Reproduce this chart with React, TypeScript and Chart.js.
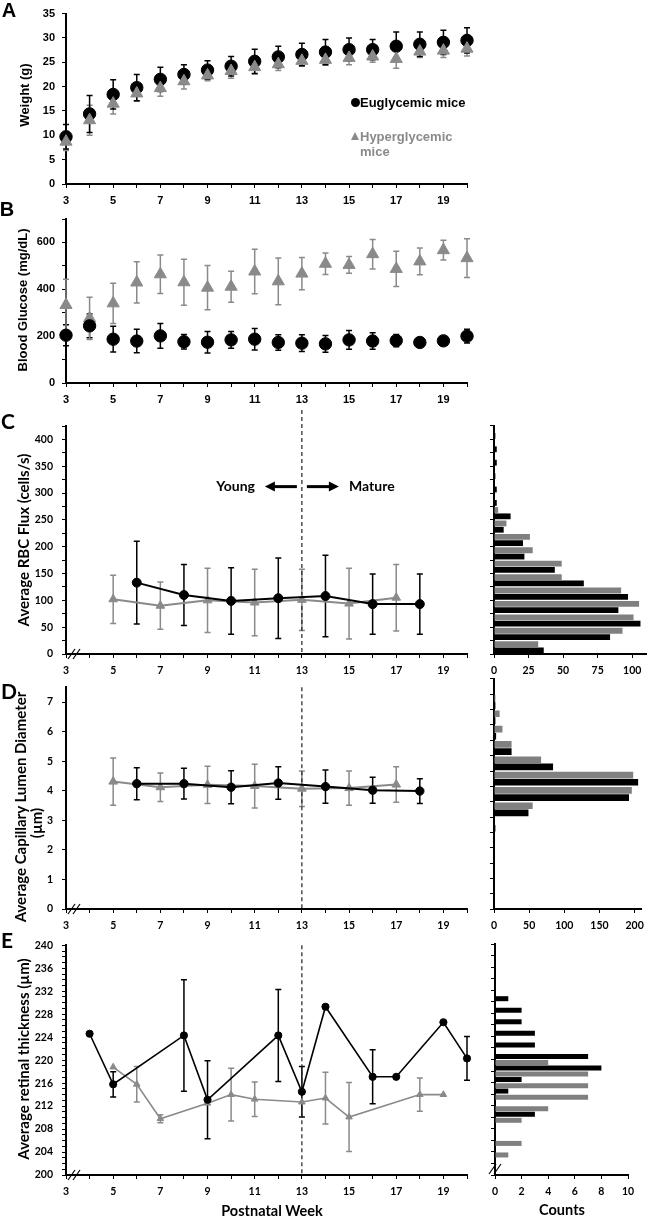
import React, { useEffect, useRef } from 'react';
import { Chart, registerables } from 'chart.js';
Chart.register(...registerables);

// ---------------- data ----------------
const weeks = [3, 4, 5, 6, 7, 8, 9, 10, 11, 12, 13, 14, 15, 16, 17, 18, 19, 20];
const weekTickLabels = [3, 5, 7, 9, 11, 13, 15, 17, 19];

// A: weight (g)
const weightEu = [9.7, 14.4, 18.4, 19.8, 21.5, 22.5, 23.4, 24.2, 25.2, 26.1, 26.6, 27.1, 27.6, 27.6, 28.3, 28.7, 29.1, 29.5];
const weightEuSd = [2.5, 3.8, 3.0, 2.7, 2.5, 2.0, 1.9, 2.0, 2.5, 2.2, 2.3, 2.6, 2.4, 2.1, 2.9, 2.5, 2.5, 2.6];
const weightHy = [8.7, 13.1, 16.5, 18.6, 19.7, 21.1, 22.3, 23.2, 24.0, 24.6, 25.3, 25.5, 25.9, 26.2, 25.7, 27.2, 27.4, 27.8];
const weightHySd = [1.8, 3.1, 2.1, 1.6, 1.7, 1.6, 1.1, 1.5, 1.4, 1.3, 1.1, 1.1, 1.4, 1.2, 1.9, 1.2, 1.4, 1.5];
const weightTicks = [0, 5, 10, 15, 20, 25, 30, 35];

// B: blood glucose (mg/dL)
const glucoseEu = [204, 244, 187, 179, 201, 176, 174, 184, 187, 173, 170, 167, 184, 179, 181, 173, 180, 200];
const glucoseEuSd = [45, 51, 55, 50, 53, 31, 46, 36, 46, 33, 36, 36, 40, 35, 26, 15, 10, 29];
const glucoseHy = [333, 276, 340, 429, 464, 430, 407, 411, 476, 434, 467, 509, 504, 550, 487, 519, 567, 533];
const glucoseHySd = [110, 90, 86, 88, 82, 98, 94, 66, 95, 100, 69, 46, 36, 63, 75, 57, 42, 83];
const glucoseTicks = [0, 100, 200, 300, 400, 500, 600, 700];
const glucoseTickLabels = [0, 200, 400, 600];

// C: RBC flux (cells/s)
const fluxEuWeeks = [6, 8, 10, 12, 14, 16, 18];
const fluxEu = [133, 110, 99, 104, 108, 93, 93];
const fluxEuSd = [77, 57, 62, 75, 76, 56, 56];
const fluxHyWeeks = [5, 7, 9, 11, 13, 15, 17];
const fluxHy = [102, 90, 100, 96, 101, 94, 105];
const fluxHySd = [45, 44, 60, 62, 57, 66, 62];
const fluxTicks = [0, 25, 50, 75, 100, 125, 150, 175, 200, 225, 250, 275, 300, 325, 350, 375, 400, 425];
const fluxTickLabels = [0, 50, 100, 150, 200, 250, 300, 350, 400];
const fluxBins = ['0', '25', '50', '75', '100', '125', '150', '175', '200', '225', '250', '275', '300', '325', '350', '375', '400'];
const fluxHistHy = [32, 93, 101, 105, 92, 49, 49, 28, 26, 9, 3, 0, 0, 0, 0, 0, 0];
const fluxHistEu = [36, 84, 106, 90, 97, 65, 44, 22, 21, 7, 12, 2, 2, 1, 2, 2, 1];
const fluxCountTicks = [0, 25, 50, 75, 100];

// D: capillary lumen diameter (um)
const diamEuWeeks = [6, 8, 10, 12, 14, 16, 18];
const diamEu = [4.24, 4.24, 4.12, 4.26, 4.14, 4.02, 3.99];
const diamEuSd = [0.54, 0.52, 0.56, 0.55, 0.56, 0.44, 0.42];
const diamHyWeeks = [5, 7, 9, 11, 13, 15, 17];
const diamHy = [4.31, 4.12, 4.2, 4.16, 4.07, 4.09, 4.21];
const diamHySd = [0.8, 0.48, 0.63, 0.74, 0.6, 0.58, 0.6];
const diamTicks = [0, 1, 2, 3, 4, 5, 6, 7];
const diamBins = ['0', '0.5', '1', '1.5', '2', '2.5', '3', '3.5', '4', '4.5', '5', '5.5', '6', '6.5', '7'];
const diamHistHy = [0, 0, 0, 0, 0, 0, 55, 196, 198, 67, 25, 12, 8, 2, 0];
const diamHistEu = [0, 0, 0, 0, 0, 2, 49, 192, 205, 84, 25, 3, 2, 2, 1];
const diamCountTicks = [0, 50, 100, 150, 200];

// E: retinal thickness (um)
const thickEuWeeks = [4, 5, 8, 9, 12, 13, 14, 16, 17, 19, 20];
const thickEu = [224.6, 215.8, 224.3, 213.1, 224.3, 214.5, 229.3, 217.1, 217.1, 226.6, 220.3];
const thickEuSd = [0, 2.2, 9.7, 6.8, 8.0, 4.4, 0, 4.7, 0, 0, 3.8];
const thickHyWeeks = [5, 6, 7, 9, 10, 11, 13, 14, 15, 18, 19];
const thickHy = [218.8, 215.8, 209.8, 212.5, 214.0, 213.2, 212.7, 213.4, 210.1, 214.0, 214.0];
const thickHySd = [0, 3.1, 0.7, 0, 4.6, 3.0, 0, 4.5, 6.0, 2.9, 0];
const thickTicks = [200, 201, 202, 203, 204, 205, 206, 207, 208, 209, 210, 211, 212, 213, 214, 215, 216, 217, 218, 219, 220, 221, 222, 223, 224, 225, 226, 227, 228, 229, 230, 231, 232, 233, 234, 235, 236, 237, 238, 239, 240];
const thickTickLabels = [200, 204, 208, 212, 216, 220, 224, 228, 232, 236, 240];
const thickBins = ['200', '202', '204', '206', '208', '210', '212', '214', '216', '218', '220', '222', '224', '226', '228', '230', '232', '234', '236', '238'];
const thickHistHy = [0, 1, 2, 0, 2, 4, 7, 7, 7, 4, 0, 0, 0, 0, 0, 0, 0, 0, 0, 0];
const thickHistEu = [0, 0, 0, 0, 0, 3, 0, 1, 2, 8, 7, 3, 3, 2, 2, 1, 0, 0, 0, 0];
const thickCountTicks = [0, 2, 4, 6, 8, 10];

// ---------------- style ----------------
const FONT_AB = "'Liberation Sans', Arial, Helvetica, sans-serif";
const FONT_CE = "Lato, 'Open Sans', 'Noto Sans', sans-serif";
const BLACK = '#000000';
const GRAY = '#8a8a8a';
const GRAY_BAR = '#808080';

const MAIN_W = 475;
const X_RIGHT = 467;
const Y_AXIS_W = 66;
const X_AXIS_H = 30;

type Geo = { canvasTop: number; top: number; bottom: number };
const GEO: Record<string, Geo> = {
  A: { canvasTop: 0, top: 6, bottom: 184 },
  B: { canvasTop: 205, top: 219, bottom: 383 },
  C: { canvasTop: 398, top: 426, bottom: 654 },
  D: { canvasTop: 672, top: 679, bottom: 909 },
  E: { canvasTop: 930, top: 944, bottom: 1175 },
};

// ---------------- plugins ----------------
const errorBarPlugin = {
  id: 'errorBars',
  beforeDatasetsDraw(chart: any) {
    const ctx = chart.ctx;
    const ys = chart.scales.y;
    chart.data.datasets.forEach((ds: any, i: number) => {
      if (!ds.errors) return;
      const meta = chart.getDatasetMeta(i);
      ctx.save();
      ctx.strokeStyle = ds.errorColor;
      ctx.lineWidth = ds.errorWidth;
      meta.data.forEach((el: any, j: number) => {
        const e = ds.errors[j];
        if (!e) return;
        const v = ds.data[j].y;
        const t = ys.getPixelForValue(v + e);
        const b = ys.getPixelForValue(v - e);
        const x = el.x;
        const c = ds.capHalf;
        ctx.beginPath();
        ctx.moveTo(x, t);
        ctx.lineTo(x, b);
        ctx.moveTo(x - c, t);
        ctx.lineTo(x + c, t);
        ctx.moveTo(x - c, b);
        ctx.lineTo(x + c, b);
        ctx.stroke();
      });
      ctx.restore();
    });
  },
};

function slashes(ctx: any, cx: number, cy: number) {
  ctx.save();
  ctx.strokeStyle = '#000';
  ctx.lineWidth = 1.2;
  for (const dx of [-2.5, 2.5]) {
    ctx.beginPath();
    ctx.moveTo(cx + dx - 3.5, cy + 5);
    ctx.lineTo(cx + dx + 3.5, cy - 5);
    ctx.stroke();
  }
  ctx.restore();
}

function arrow(ctx: any, x1: number, x2: number, y: number) {
  const dir = Math.sign(x2 - x1);
  ctx.save();
  ctx.strokeStyle = '#000';
  ctx.fillStyle = '#000';
  ctx.lineWidth = 3;
  ctx.beginPath();
  ctx.moveTo(x1, y);
  ctx.lineTo(x2 - dir * 7, y);
  ctx.stroke();
  ctx.beginPath();
  ctx.moveTo(x2, y);
  ctx.lineTo(x2 - dir * 10, y - 5);
  ctx.lineTo(x2 - dir * 10, y + 5);
  ctx.closePath();
  ctx.fill();
  ctx.restore();
}

const decorPlugin = {
  id: 'decor',
  beforeDatasetsDraw(chart: any, _a: any, opts: any) {
    if (opts.dashAt == null) return;
    const { ctx, chartArea } = chart;
    const x = chart.scales.x.getPixelForValue(opts.dashAt);
    ctx.save();
    ctx.setLineDash([4, 3]);
    ctx.strokeStyle = '#222';
    ctx.lineWidth = 1.2;
    ctx.beginPath();
    ctx.moveTo(x, chartArea.top - (opts.dashExt || 0));
    ctx.lineTo(x, chartArea.bottom);
    ctx.stroke();
    ctx.restore();
  },
  afterDraw(chart: any, _a: any, opts: any) {
    const { ctx, chartArea } = chart;
    if (opts.xBreak) slashes(ctx, chartArea.left + 8, chartArea.bottom);
    if (opts.yBreak) slashes(ctx, chartArea.left, chartArea.bottom - 6);
    if (opts.arrowY != null) {
      const x13 = chart.scales.x.getPixelForValue(opts.dashAt);
      const y = chart.scales.y.getPixelForValue(opts.arrowY);
      arrow(ctx, x13 - 5, x13 - 37, y);
      arrow(ctx, x13 + 5, x13 + 37, y);
    }
  },
};

// ---------------- builders ----------------
function series(xs: number[], ys: number[], sd: number[], color: string, style: string, radius: number, line: boolean, lineWidth: number, cap = 3) {
  return {
    data: xs.map((x, i) => ({ x, y: ys[i] })),
    errors: sd,
    errorColor: color,
    errorWidth: 1.5,
    capHalf: cap,
    showLine: line,
    borderColor: color,
    backgroundColor: color,
    borderWidth: lineWidth,
    pointStyle: style,
    pointRadius: radius,
    pointBorderWidth: 1,
    pointBorderColor: color,
    pointBackgroundColor: color,
    clip: false,
    tension: 0,
  };
}

function axisCommon(fontFamily: string) {
  return {
    grid: { drawOnChartArea: false, drawTicks: true, tickLength: 4, color: '#000', lineWidth: 1 },
    border: { display: true, color: '#000', width: 2 },
    fontObj: { family: fontFamily, weight: 'bold', size: fontFamily === FONT_AB ? 11 : 10.5 },
  };
}

function mainConfig(g: Geo, datasets: any[], yMin: number, yMax: number, yTicks: number[], yLabels: number[], fontFamily: string, yPad: number, decor: any) {
  const ac = axisCommon(fontFamily);
  return {
    type: 'scatter',
    data: { datasets },
    options: {
      responsive: false,
      animation: false,
      events: [],
      layout: { autoPadding: false, padding: { top: g.top - g.canvasTop, right: MAIN_W - X_RIGHT, left: 0, bottom: 0 } },
      plugins: { legend: { display: false }, tooltip: { enabled: false }, decor },
      scales: {
        x: {
          type: 'linear',
          min: 3,
          max: 20,
          afterBuildTicks: (s: any) => { s.ticks = weeks.map((v) => ({ value: v })); },
          ticks: { autoSkip: false, maxRotation: 0, font: ac.fontObj, color: '#000', padding: 6, callback: (v: any) => (weekTickLabels.includes(v) ? String(v) : '') },
          grid: ac.grid,
          border: ac.border,
          afterFit: (s: any) => { s.height = X_AXIS_H; },
        },
        y: {
          type: 'linear',
          min: yMin,
          max: yMax,
          afterBuildTicks: (s: any) => { s.ticks = yTicks.map((v) => ({ value: v })); },
          ticks: { autoSkip: false, font: ac.fontObj, color: '#000', padding: yPad, callback: (v: any) => (yLabels.includes(v) ? String(v) : '') },
          grid: ac.grid,
          border: ac.border,
          afterFit: (s: any) => { s.width = Y_AXIS_W; },
        },
      },
    },
    plugins: [errorBarPlugin, decorPlugin],
  };
}

function histConfig(g: Geo, bins: string[], hy: number[], eu: number[], xMax: number, xTicks: number[], chartLeft: number, chartRight: number, decor: any) {
  const ac = axisCommon(FONT_CE);
  return {
    type: 'bar',
    data: {
      labels: bins,
      datasets: [
        { data: hy, backgroundColor: GRAY_BAR, categoryPercentage: 0.94, barPercentage: 0.92 },
        { data: eu, backgroundColor: BLACK, categoryPercentage: 0.94, barPercentage: 0.92 },
      ],
    },
    options: {
      indexAxis: 'y',
      responsive: false,
      animation: false,
      events: [],
      layout: { autoPadding: false, padding: { top: g.top - g.canvasTop, right: 650 - chartRight, left: 0, bottom: 0 } },
      plugins: { legend: { display: false }, tooltip: { enabled: false }, decor },
      scales: {
        x: {
          type: 'linear',
          min: 0,
          max: xMax,
          afterBuildTicks: (s: any) => { s.ticks = xTicks.map((v) => ({ value: v })); },
          ticks: { autoSkip: false, maxRotation: 0, font: ac.fontObj, color: '#000', padding: 6 },
          grid: ac.grid,
          border: ac.border,
          afterFit: (s: any) => { s.height = X_AXIS_H; },
        },
        y: {
          type: 'category',
          reverse: true,
          offset: true,
          ticks: { display: false },
          grid: { ...ac.grid, offset: true },
          border: ac.border,
          afterFit: (s: any) => { s.width = chartLeft - 470; },
        },
      },
    },
    plugins: [decorPlugin],
  };
}

const configs: Record<string, () => any> = {
  A: () => mainConfig(GEO.A, [
    series(weeks, weightHy, weightHySd, GRAY, 'triangle', 7, false, 0),
    series(weeks, weightEu, weightEuSd, BLACK, 'circle', 6.2, false, 0),
  ], 0, 35, weightTicks, weightTicks, FONT_AB, 7, {}),
  B: () => mainConfig(GEO.B, [
    series(weeks, glucoseEu, glucoseEuSd, BLACK, 'circle', 6.2, false, 0),
    series(weeks, glucoseHy, glucoseHySd, GRAY, 'triangle', 7, false, 0),
  ], 0, 700, glucoseTicks, glucoseTickLabels, FONT_AB, 7, {}),
  C: () => mainConfig(GEO.C, [
    series(fluxEuWeeks, fluxEu, fluxEuSd, BLACK, 'circle', 4.5, true, 2),
    series(fluxHyWeeks, fluxHy, fluxHySd, GRAY, 'triangle', 5, true, 2),
  ], 0, 425, fluxTicks, fluxTickLabels, FONT_CE, 9, { dashAt: 13, dashExt: 16, xBreak: true, arrowY: 312 }),
  D: () => mainConfig(GEO.D, [
    series(diamEuWeeks, diamEu, diamEuSd, BLACK, 'circle', 4.2, true, 2),
    series(diamHyWeeks, diamHy, diamHySd, GRAY, 'triangle', 5, true, 2),
  ], 0, 7.5, diamTicks, diamTicks, FONT_CE, 9, { dashAt: 13, dashExt: 0, xBreak: true }),
  E: () => mainConfig(GEO.E, [
    series(thickEuWeeks, thickEu, thickEuSd, BLACK, 'circle', 3.6, true, 1.6),
    series(thickHyWeeks, thickHy, thickHySd, GRAY, 'triangle', 3.8, true, 1.6),
  ], 200, 240, thickTicks, thickTickLabels, FONT_CE, 9, { dashAt: 13, dashExt: 0, xBreak: true }),
  CH: () => histConfig(GEO.C, fluxBins, fluxHistHy, fluxHistEu, 110, fluxCountTicks, 494, 646, {}),
  DH: () => histConfig(GEO.D, diamBins, diamHistHy, diamHistEu, 210, diamCountTicks, 494, 645, {}),
  EH: () => histConfig(GEO.E, thickBins, thickHistHy, thickHistEu, 10, thickCountTicks, 495, 628, { yBreak: true }),
};

function ChartBox({ id, left, width, geo, extraH = 0 }: { id: string; left: number; width: number; geo: Geo; extraH?: number }) {
  const ref = useRef<HTMLCanvasElement>(null);
  const height = geo.bottom + X_AXIS_H - geo.canvasTop + extraH;
  useEffect(() => {
    const chart = new Chart(ref.current as HTMLCanvasElement, configs[id]() as any);
    return () => chart.destroy();
  }, [id]);
  return (
    <canvas
      ref={ref}
      width={width}
      height={height}
      style={{ position: 'absolute', left, top: geo.canvasTop, width, height }}
    />
  );
}

function Txt({ x, y, text, font, size, color = '#000', rotate = false, align = 'center' }: any) {
  const tx = align === 'center' ? '-50%' : align === 'right' ? '-100%' : '0';
  return (
    <div
      style={{
        position: 'absolute',
        left: x,
        top: y,
        transform: `translate(${tx}, -50%)${rotate ? ' rotate(-90deg)' : ''}`,
        fontFamily: font,
        fontWeight: 'bold',
        fontSize: size,
        lineHeight: 1,
        color,
        whiteSpace: 'nowrap',
      }}
    >
      {text}
    </div>
  );
}

export default function App() {
  return (
    <div style={{ position: 'absolute', left: 0, top: 0, width: 650, height: 1217, background: '#fff', overflow: 'hidden' }}>
      <ChartBox id="A" left={0} width={MAIN_W} geo={GEO.A} />
      <ChartBox id="B" left={0} width={MAIN_W} geo={GEO.B} />
      <ChartBox id="C" left={0} width={MAIN_W} geo={GEO.C} />
      <ChartBox id="D" left={0} width={MAIN_W} geo={GEO.D} />
      <ChartBox id="E" left={0} width={MAIN_W} geo={GEO.E} />
      <ChartBox id="CH" left={470} width={180} geo={GEO.C} />
      <ChartBox id="DH" left={470} width={180} geo={GEO.D} />
      <ChartBox id="EH" left={470} width={180} geo={GEO.E} />

      <Txt x={9} y={10} text="A" font={FONT_AB} size={20} />
      <Txt x={7} y={209} text="B" font={FONT_AB} size={20} />
      <Txt x={8} y={420} text="C" font={FONT_CE} size={21} />
      <Txt x={9} y={690} text="D" font={FONT_CE} size={21} />
      <Txt x={7} y={939} text="E" font={FONT_CE} size={21} />

      <Txt x={24} y={95} text="Weight (g)" font={FONT_AB} size={13} rotate />
      <Txt x={22} y={300} text="Blood Glucose (mg/dL)" font={FONT_AB} size={13} rotate />
      <Txt x={23} y={540} text="Average RBC Flux (cells/s)" font={FONT_CE} size={15} rotate />
      <Txt x={20} y={807} text="Average Capillary Lumen Diameter" font={FONT_CE} size={15} rotate />
      <Txt x={36} y={823} text="(µm)" font={FONT_CE} size={15} rotate />
      <Txt x={23} y={1059} text="Average retinal thickness (µm)" font={FONT_CE} size={15} rotate />
      <Txt x={272} y={1211} text="Postnatal Week" font={FONT_CE} size={14.5} />
      <Txt x={562} y={1210} text="Counts" font={FONT_CE} size={14.5} />

      <div style={{ position: 'absolute', left: 351, top: 98, width: 9, height: 9, borderRadius: '50%', background: BLACK }} />
      <Txt x={360} y={102} text="Euglycemic mice" font={FONT_AB} size={13} align="left" />
      <div style={{ position: 'absolute', left: 351, top: 132, width: 0, height: 0, borderLeft: '4.5px solid transparent', borderRight: '4.5px solid transparent', borderBottom: `8px solid ${GRAY}` }} />
      <Txt x={360} y={136} text="Hyperglycemic" font={FONT_AB} size={13} color={GRAY} align="left" />
      <Txt x={360} y={151} text="mice" font={FONT_AB} size={13} color={GRAY} align="left" />

      <Txt x={255} y={486} text="Young" font={FONT_CE} size={14} align="right" />
      <Txt x={349} y={486} text="Mature" font={FONT_CE} size={14} align="left" />
    </div>
  );
}
